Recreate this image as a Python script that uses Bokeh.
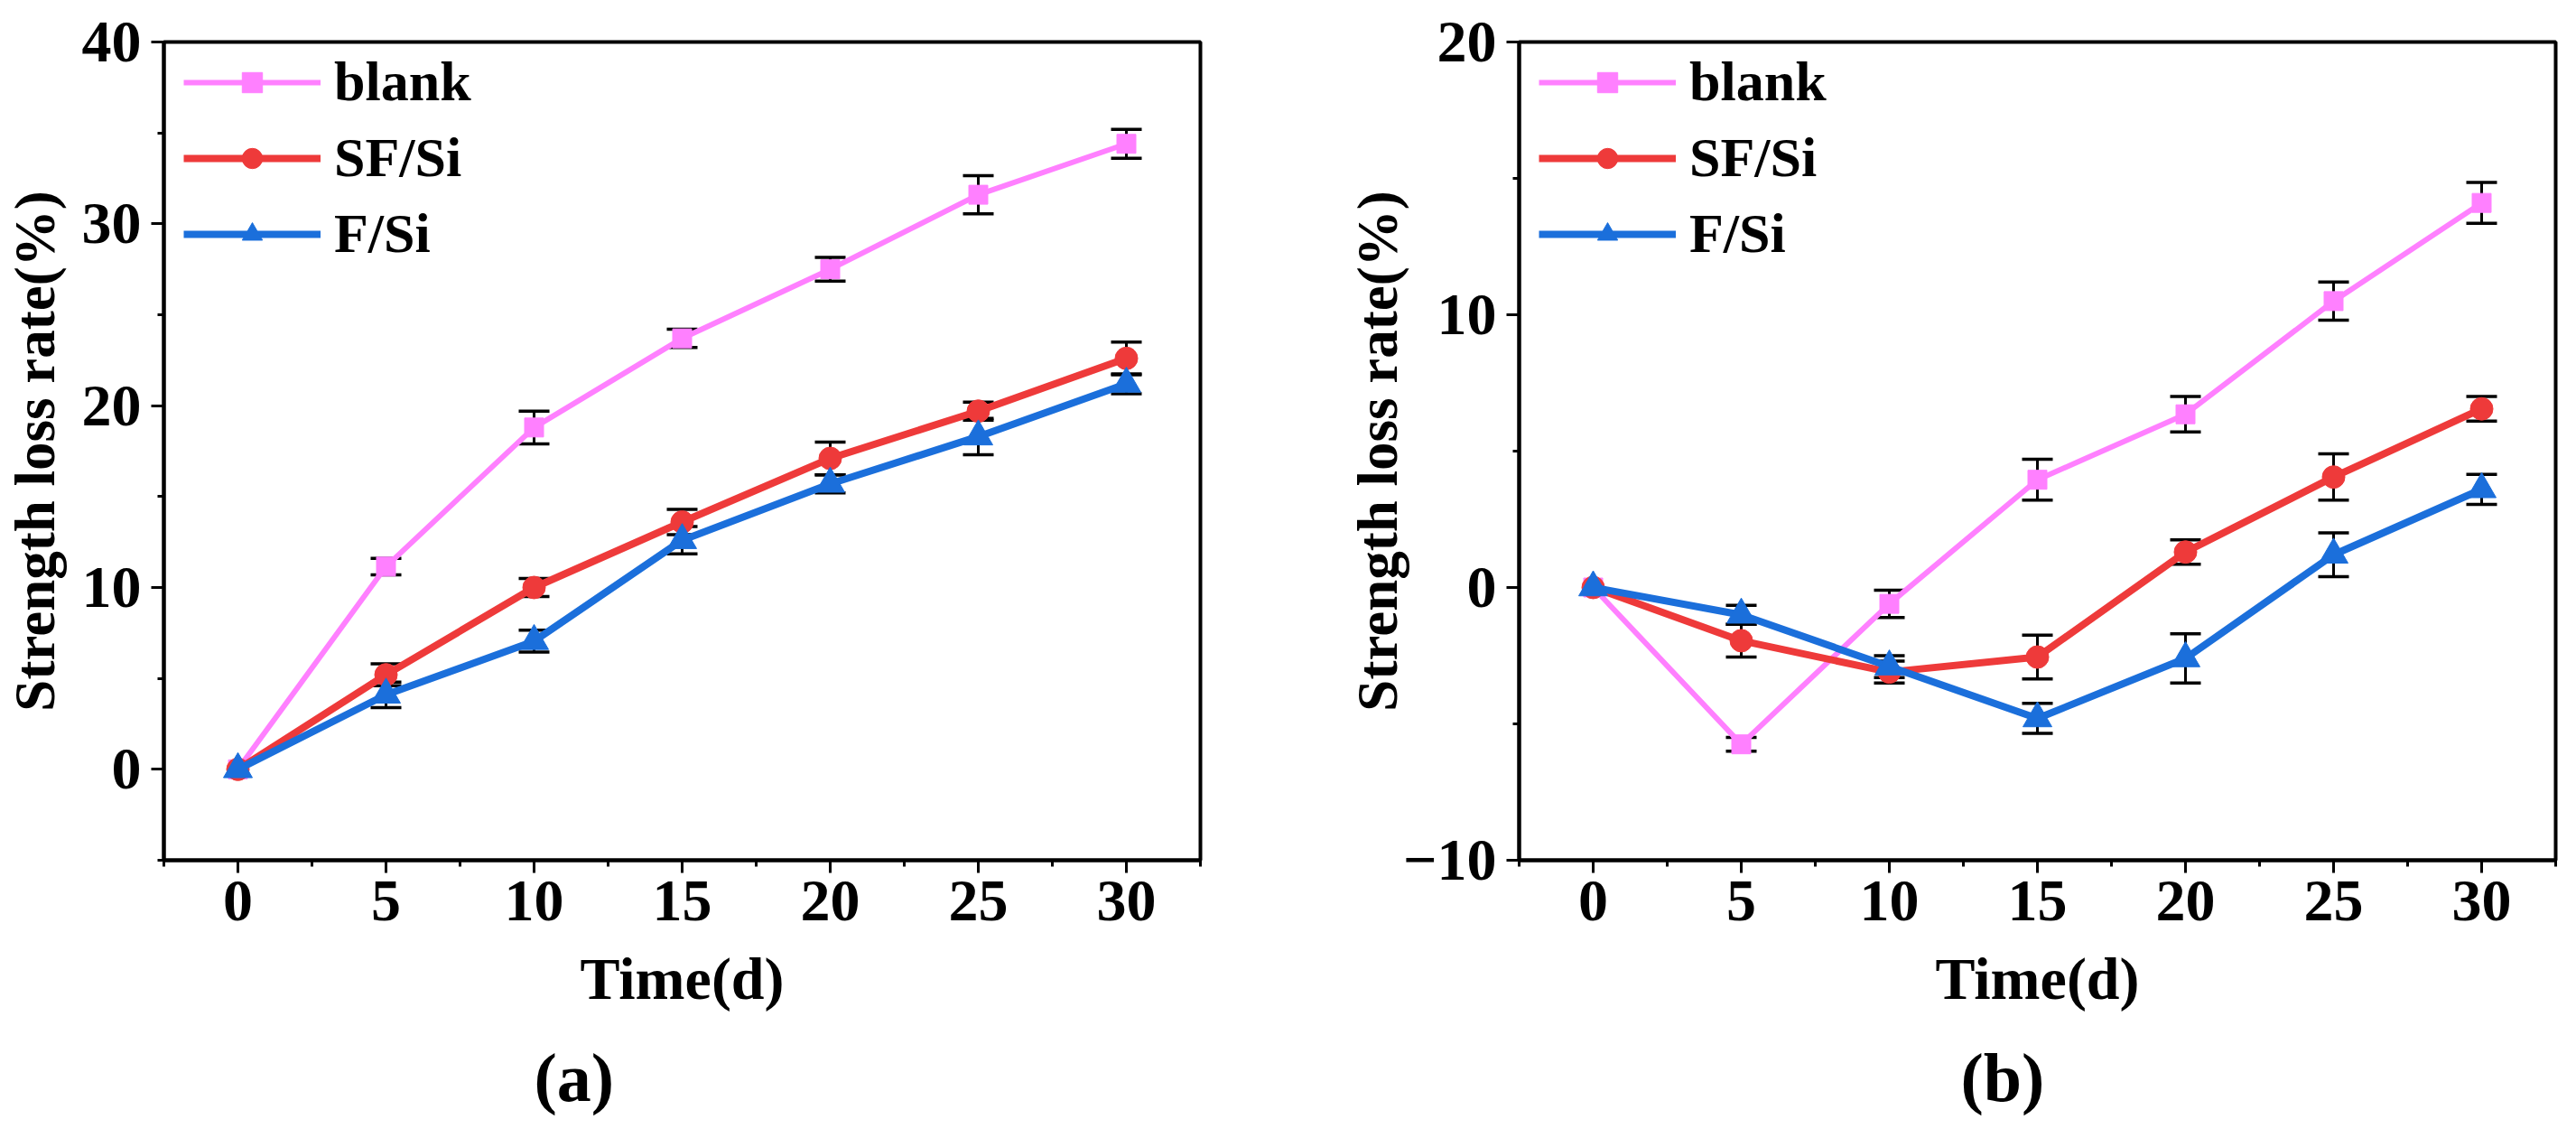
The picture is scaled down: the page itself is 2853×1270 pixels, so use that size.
from bokeh.embed import file_html
from bokeh.layouts import row
from bokeh.models import (ColumnDataSource, FixedTicker, Legend, LegendItem,
                          Range1d, TeeHead, Title, Whisker)
from bokeh.plotting import figure
from bokeh.resources import INLINE

FONT = "Liberation Serif"

days = [0, 5, 10, 15, 20, 25, 30]
day_ticks = [0, 5, 10, 15, 20, 25, 30]
day_minor = [-2.5, 2.5, 7.5, 12.5, 17.5, 22.5, 27.5, 32.5]

series_names = ["blank", "SF/Si", "F/Si"]
series_colors = ["#FF80FF", "#EE3A3A", "#1B6FDB"]
series_markers = ["square", "circle", "triangle"]

# panel (a)
a_blank = [0, 11.15, 18.8, 23.7, 27.5, 31.6, 34.4]
a_blank_err = [0, 0.45, 0.9, 0.5, 0.65, 1.05, 0.8]
a_sfsi = [0, 5.2, 10.0, 13.6, 17.1, 19.7, 22.6]
a_sfsi_err = [0, 0.6, 0.5, 0.7, 0.9, 0.5, 0.9]
a_fsi = [0, 4.1, 7.05, 12.6, 15.7, 18.3, 21.2]
a_fsi_err = [0, 0.7, 0.6, 0.75, 0.5, 1.0, 0.55]
a_yticks = [0, 10, 20, 30, 40]
a_yminor = [-5, 5, 15, 25, 35]

# panel (b)
b_blank = [0, -5.75, -0.6, 3.95, 6.35, 10.5, 14.1]
b_blank_err = [0, 0.25, 0.5, 0.75, 0.65, 0.7, 0.75]
b_sfsi = [0, -1.95, -3.1, -2.55, 1.3, 4.05, 6.55]
b_sfsi_err = [0, 0.6, 0.4, 0.8, 0.45, 0.85, 0.45]
b_fsi = [0, -1.0, -2.9, -4.8, -2.6, 1.2, 3.6]
b_fsi_err = [0, 0.35, 0.4, 0.55, 0.9, 0.8, 0.55]
b_yticks = [-10, 0, 10, 20]
b_yminor = [-5, 5, 15]
b_ylabels = {-10: "\u221210"}


def make_panel(values, errors, y_lo, y_hi, yticks, yminor, ylabels,
               border_left, border_right, ylabel_standoff, caption, caption_offset):
    p = figure(frame_width=1148, frame_height=906,
               min_border_left=border_left, min_border_right=border_right,
               min_border_top=46, min_border_bottom=316,
               x_range=Range1d(-2.5, 32.5), y_range=Range1d(y_lo, y_hi),
               output_backend="svg", toolbar_location=None)
    p.grid.visible = False
    p.outline_line_color = "black"
    p.outline_line_width = 4
    p.outline_line_alpha = 1

    items = []
    for ys, name, color, marker in zip(values, series_names, series_colors, series_markers):
        lw = 6 if name == "blank" else 8
        src = ColumnDataSource(dict(x=days, y=ys))
        r_line = p.line("x", "y", source=src, line_color=color, line_width=lw)
        size = {"square": 21, "circle": 25, "triangle": 32}[marker]
        r_mark = p.scatter("x", "y", source=src, marker=marker, size=size,
                           fill_color=color, line_color=color)
        items.append(LegendItem(label=name, renderers=[r_line, r_mark]))

    # error bars, drawn over the markers
    for ys, es in zip(values, errors):
        base = [d for d, e in zip(days, es) if e > 0]
        up = [y + e for y, e in zip(ys, es) if e > 0]
        lo = [y - e for y, e in zip(ys, es) if e > 0]
        wsrc = ColumnDataSource(dict(base=base, upper=up, lower=lo))
        p.add_layout(Whisker(source=wsrc, base="base", upper="upper", lower="lower",
                             line_color="black", line_width=3,
                             upper_head=TeeHead(size=34, line_color="black", line_width=3.5),
                             lower_head=TeeHead(size=34, line_color="black", line_width=3.5)))

    legend = Legend(items=items, location=(22, 658), glyph_width=152, glyph_height=56,
                    label_height=70, spacing=13, padding=0, margin=0, label_standoff=15,
                    label_text_font=FONT, label_text_font_size="62px",
                    label_text_font_style="bold", label_text_color="black",
                    border_line_color=None, background_fill_alpha=0)
    p.add_layout(legend)

    p.xaxis.ticker = FixedTicker(ticks=day_ticks, minor_ticks=day_minor)
    p.yaxis.ticker = FixedTicker(ticks=yticks, minor_ticks=yminor)
    p.yaxis.major_label_overrides = ylabels

    for ax in (p.xaxis, p.yaxis):
        ax.axis_line_width = 4
        ax.axis_line_color = "black"
        ax.major_tick_in = 0
        ax.major_tick_out = 14
        ax.minor_tick_in = 0
        ax.minor_tick_out = 7
        ax.major_tick_line_width = 3
        ax.minor_tick_line_width = 3
        ax.major_tick_line_color = "black"
        ax.minor_tick_line_color = "black"
        ax.major_label_text_font = FONT
        ax.major_label_text_font_size = "66px"
        ax.major_label_text_font_style = "bold"
        ax.major_label_text_color = "black"
        ax.axis_label_text_font = FONT
        ax.axis_label_text_font_style = "bold"
        ax.axis_label_text_color = "black"

    p.xaxis.major_label_standoff = 9
    p.xaxis.axis_label = "Time(d)"
    p.xaxis.axis_label_text_font_size = "66px"
    p.xaxis.axis_label_standoff = 25

    p.yaxis.major_label_standoff = 11
    p.yaxis.axis_label = "Strength loss rate(%)"
    p.yaxis.axis_label_text_font_size = "63px"
    p.yaxis.axis_label_standoff = ylabel_standoff

    p.add_layout(Title(text=caption, align="left", offset=caption_offset, standoff=52,
                       text_font=FONT, text_font_size="76px", text_font_style="bold",
                       text_color="black"), "below")
    return p


pa = make_panel([a_blank, a_sfsi, a_fsi], [a_blank_err, a_sfsi_err, a_fsi_err],
                -5, 40, a_yticks, a_yminor, {}, 180, 92, 14, "(a)", 410)
pb = make_panel([b_blank, b_sfsi, b_fsi], [b_blank_err, b_sfsi_err, b_fsi_err],
                -10, 20, b_yticks, b_yminor, b_ylabels, 261, 22, -10, "(b)", 489)

layout = row(pa, pb)
open("out.html", "w").write(file_html(layout, INLINE))
